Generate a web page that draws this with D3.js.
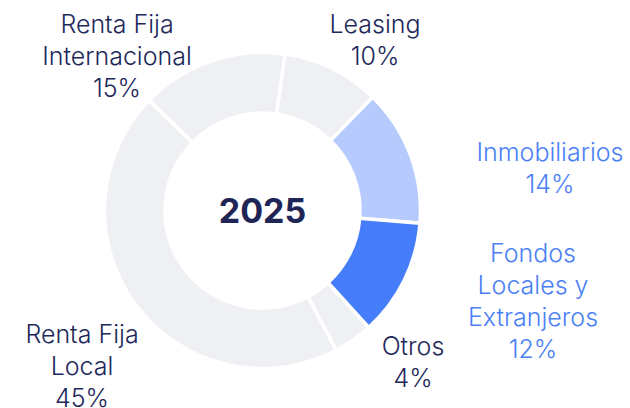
<!DOCTYPE html>
<html><head><meta charset="utf-8">
<script src="https://cdn.jsdelivr.net/npm/d3@7"></script>
<style>body{margin:0;background:#fff}svg{display:block}text{font-family:Inter,"Noto Sans",sans-serif}</style>
</head><body><svg id="c" width="630" height="408"></svg>
<script>
const categories = ["Leasing","Inmobiliarios","Fondos Locales y Extranjeros","Otros","Renta Fija Local","Renta Fija Internacional"];
const values = [10,14,12,4,45,15];
const labelLines = [["Leasing","10%"],["Inmobiliarios","14%"],["Fondos","Locales y","Extranjeros","12%"],["Otros","4%"],["Renta Fija","Local","45%"],["Renta Fija","Internacional","15%"]];
const sliceColors = ["#eef0f3","#b6cafd","#467dfb","#eef0f3","#eef0f3","#eef0f3"];
const labelColors = ["#21285a","#4b7ff6","#4b7ff6","#21285a","#21285a","#21285a"];
const labelPos = [[375,33],[550,161],[533,262],[413,355],[82,343],[117,33]];
const centerLabel = "2025";

const svg = d3.select("#c");
const cx = 262.5, cy = 210.5, R = 158, r = 97.5;
const g = svg.append("g").attr("transform",`translate(${cx},${cy})`);
const start = 8.2*Math.PI/180;
const pie = d3.pie().sort(null).value(d=>d).startAngle(start).endAngle(start+2*Math.PI);
const arc = d3.arc().innerRadius(r).outerRadius(R);
g.selectAll("path").data(pie(values)).join("path")
  .attr("d",arc).attr("fill",(d,i)=>sliceColors[i])
  .attr("stroke","#fff").attr("stroke-width",3.5).attr("stroke-linejoin","miter");

g.append("text").attr("text-anchor","middle").attr("y",12.3)
  .attr("font-size",34).attr("font-weight",700).attr("fill","#1f2656").text(centerLabel);

labelLines.forEach((lines,i)=>{
  const t = svg.append("text").attr("text-anchor","middle")
    .attr("font-size",25).attr("font-weight",300).attr("fill",labelColors[i]);
  lines.forEach((s,j)=>t.append("tspan").attr("x",labelPos[i][0]).attr("y",labelPos[i][1]+j*32).text(s));
});
</script></body></html>
